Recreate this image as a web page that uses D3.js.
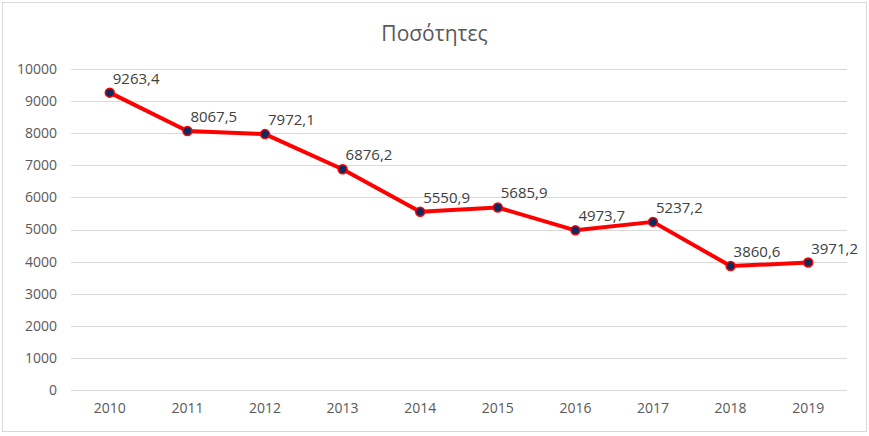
<!DOCTYPE html>
<html>
<head>
<meta charset="utf-8">
<script src="https://cdn.jsdelivr.net/npm/d3@7"></script>
<style>
  body { margin: 0; background: #fff; }
  svg { font-family: "Open Sans", "Liberation Sans", sans-serif; }
</style>
</head>
<body>
<div id="chart"></div>
<script>
// data
const years = ['2010', '2011', '2012', '2013', '2014', '2015', '2016', '2017', '2018', '2019'];
const values = [9263.4, 8067.5, 7972.1, 6876.2, 5550.9, 5685.9, 4973.7, 5237.2, 3860.6, 3971.2];
const yTicks = [0, 1000, 2000, 3000, 4000, 5000, 6000, 7000, 8000, 9000, 10000];

const W = 869, H = 436;
const margin = {top: 69, right: 22, bottom: 46, left: 71};

const svg = d3.select('#chart').append('svg')
    .attr('width', W)
    .attr('height', H);

// chart border
svg.append('rect')
    .attr('x', 2.5).attr('y', 2.5)
    .attr('width', W - 5).attr('height', H - 7)
    .attr('fill', '#fff')
    .attr('stroke', '#d9d9d9');

// title
svg.append('text')
    .attr('x', W / 2).attr('y', 41)
    .attr('text-anchor', 'middle')
    .attr('font-size', 21)
    .attr('fill', '#595959')
    .text('Ποσότητες');

let x = d3.scaleBand().domain(years).range([margin.left, W - margin.right]);
let y = d3.scaleLinear().domain([0, 10000]).range([H - margin.bottom, margin.top]);

// gridlines
svg.append('g')
    .selectAll('line')
    .data(yTicks)
    .join('line')
    .attr('x1', margin.left).attr('x2', W - margin.right)
    .attr('y1', d => Math.round(y(d)) + 0.5).attr('y2', d => Math.round(y(d)) + 0.5)
    .attr('stroke', '#d9d9d9')
    .attr('stroke-width', 1);

// y axis labels
let yAxis = svg.append('g')
    .attr('transform', 'translate(' + (margin.left - 14) + ',0)')
    .call(d3.axisLeft(y).tickValues(yTicks).tickFormat(d3.format('d')).tickSize(0).tickPadding(0));
yAxis.select('.domain').remove();
yAxis.selectAll('text').attr('font-size', 14).attr('fill', '#595959')
    .attr('font-family', '"Open Sans", "Liberation Sans", sans-serif');

// x axis labels
let xAxis = svg.append('g')
    .attr('transform', 'translate(0,' + (H - margin.bottom) + ')')
    .call(d3.axisBottom(x).tickSize(0).tickPadding(13));
xAxis.select('.domain').remove();
xAxis.selectAll('text').attr('font-size', 14).attr('fill', '#595959')
    .attr('font-family', '"Open Sans", "Liberation Sans", sans-serif');

const cx = (d, i) => x(years[i]) + x.bandwidth() / 2;

// the line
let line = d3.line()
    .x((d, i) => cx(d, i))
    .y(d => y(d));

svg.append('path')
    .datum(values)
    .attr('d', line)
    .attr('fill', 'none')
    .attr('stroke', '#ff0000')
    .attr('stroke-width', 4)
    .attr('stroke-linejoin', 'round');

// markers
svg.append('g')
    .selectAll('circle')
    .data(values)
    .join('circle')
    .attr('cx', cx)
    .attr('cy', d => y(d))
    .attr('r', 4.5)
    .attr('fill', '#0f2a5e')
    .attr('stroke', '#ff0000')
    .attr('stroke-width', 1.5);

// data labels
const fmt = d3.formatLocale({decimal: ',', thousands: '', grouping: [3], currency: ['', '€']}).format('.1f');
svg.append('g')
    .selectAll('text')
    .data(values)
    .join('text')
    .attr('x', (d, i) => cx(d, i) + 3)
    .attr('y', d => y(d) - 9)
    .attr('font-size', 15)
    .attr('fill', '#404040')
    .text(d => fmt(d));
</script>
</body>
</html>
